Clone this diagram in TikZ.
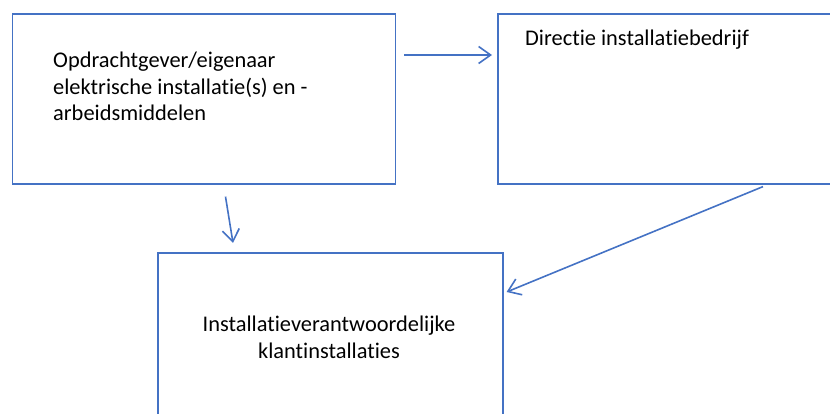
\documentclass[tikz,border=0pt]{standalone}
\usepackage{fontspec}
\setmainfont[Ligatures=NoCommon]{Carlito}
\usetikzlibrary{arrows.meta,calc}
\definecolor{officeblue}{HTML}{4472C4}
\tikzset{
  boxnode/.style={draw=officeblue, line width=1.6pt, fill=none, rectangle, inner sep=0pt, anchor=north west},
  txt/.style={inner sep=0pt, font=\fontsize{22.4}{26.3}\selectfont, text=black},
  conn/.style={draw=officeblue, line width=1.6pt, -{Straight Barb[length=12pt,width=17pt,line width=1.6pt]}}
}
\begin{document}
\begin{tikzpicture}[x=1pt,y=-1pt]
\useasboundingbox (0,0) rectangle (830,414);
\node[boxnode, minimum width=383pt, minimum height=170pt] (A) at (11.5,13) {};
\node[boxnode, minimum width=345pt, minimum height=170pt] (B) at (497,13) {};
\node[boxnode, minimum width=345pt, minimum height=175pt] (C) at (157,252) {};
\node[txt, anchor=base west, align=left] (tA) at (53,120.5) {Opdrachtgever/eigenaar\\elektrische installatie(s) en -\\arbeidsmiddelen};
\node[txt, anchor=base west] (tB) at (525,46) {Directie installatiebedrijf};
\node[txt, anchor=base, align=center] (tC) at (329,358) {Installatieverantwoordelijke\\klantinstallaties};
\draw[conn] ($(A.north east)+(8,42)$) -- ($(B.north west)+(-5,42)$);
\draw[conn] ($(A.south west)+(214,12)$) -- ($(C.north west)+(76,-9)$);
\draw[conn] ($(B.south west)+(266,2)$) -- ($(C.north east)+(3,40)$);
\end{tikzpicture}
\end{document}
